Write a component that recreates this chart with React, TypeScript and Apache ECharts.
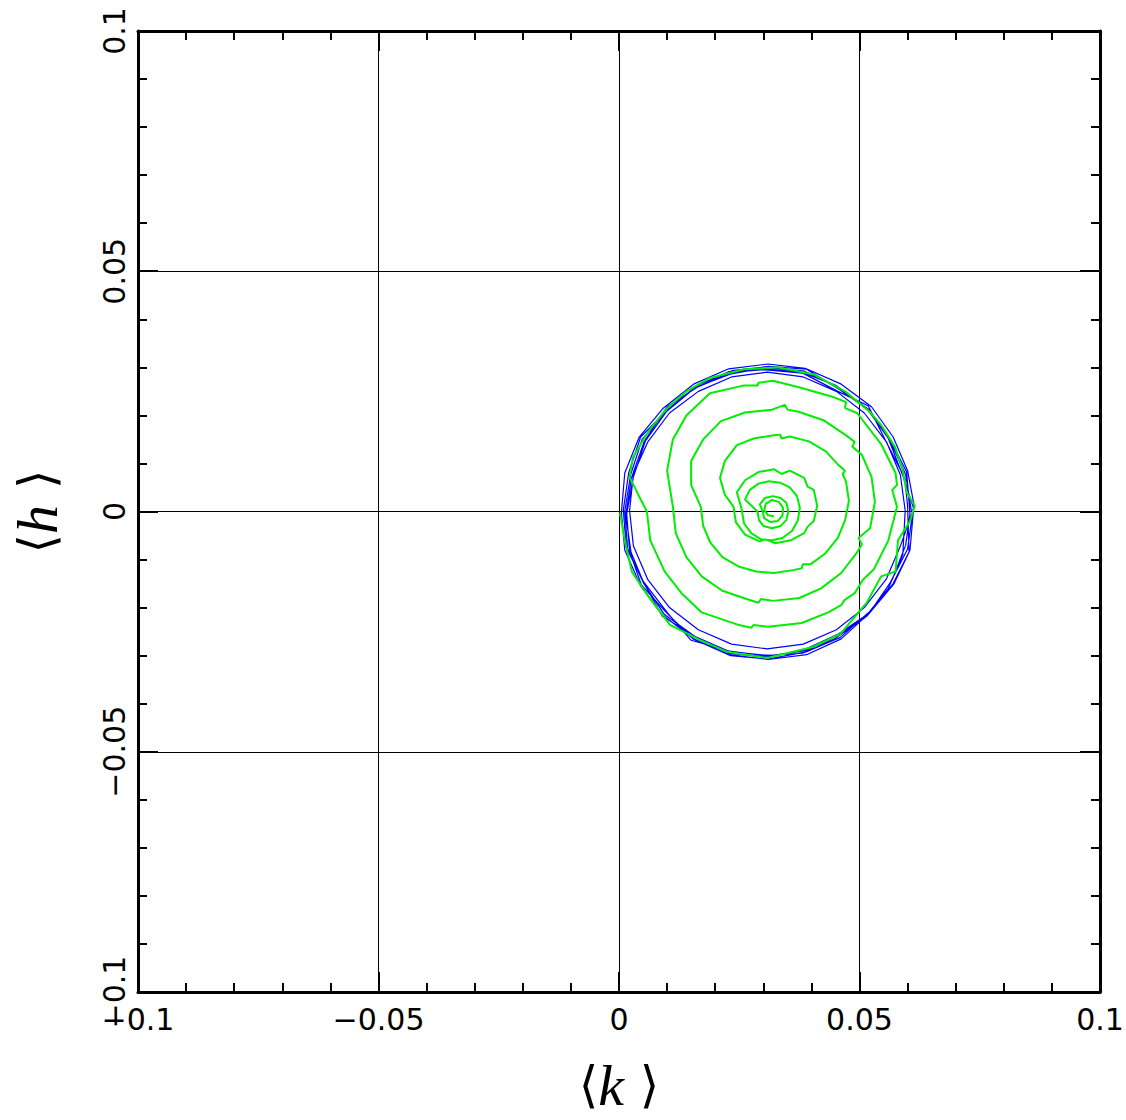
import React, { useEffect, useRef } from "react";
import * as echarts from "echarts";

const tickLabels = ["−0.1", "−0.05", "0", "0.05", "0.1"];

const blueLoop1: number[][] = [
  [0.0608, 0.0], [0.0596, 0.0077], [0.0563, 0.0148], [0.052, 0.0212], [0.0457, 0.0257], [0.0386, 0.0292],
  [0.0308, 0.03], [0.0231, 0.0286], [0.0159, 0.0258], [0.0099, 0.0209], [0.0048, 0.015], [0.0024, 0.0076],
  [0.0012, 0.0], [0.0018, -0.0078], [0.0051, -0.0149], [0.0094, -0.0214], [0.0158, -0.026], [0.0229, -0.0295],
  [0.0308, -0.0303], [0.0385, -0.0288], [0.0456, -0.0255], [0.052, -0.0212], [0.0564, -0.0148], [0.06, -0.0078],
];
const blueLoop2: number[][] = [
  [0.0612, 0.0008], [0.059, 0.0075], [0.056, 0.0152], [0.0515, 0.0215], [0.0452, 0.0262], [0.038, 0.029],
  [0.0305, 0.0297], [0.0228, 0.0291], [0.0162, 0.0262], [0.0103, 0.0214], [0.0055, 0.0147], [0.003, 0.0072],
  [0.0016, -0.0005], [0.0022, -0.0082], [0.0046, -0.0152], [0.0098, -0.021], [0.0155, -0.0266], [0.0232, -0.03],
  [0.031, -0.0307], [0.039, -0.0292], [0.046, -0.0262], [0.0525, -0.0205], [0.0568, -0.0142], [0.0596, -0.007],
];
const blueLoop3: number[][] = [
  [0.0605, -0.0005], [0.0598, 0.0082], [0.0566, 0.0145], [0.0523, 0.0208], [0.046, 0.0253], [0.039, 0.0296],
  [0.0312, 0.0302], [0.0235, 0.0293], [0.0155, 0.0255], [0.0095, 0.0205], [0.0045, 0.0155], [0.002, 0.008],
  [0.0009, 0.0003], [0.0015, -0.0075], [0.0055, -0.0155], [0.009, -0.0218], [0.0162, -0.0262], [0.0226, -0.029],
  [0.0302, -0.03], [0.0382, -0.0295], [0.0452, -0.0258], [0.0515, -0.0218], [0.0572, -0.015], [0.0603, -0.0085],
];
const blueLoop4: number[][] = [
  [0.06, 0.0012], [0.0594, 0.007], [0.0558, 0.014], [0.0518, 0.022], [0.0455, 0.025], [0.0382, 0.0288],
  [0.03, 0.0295], [0.0238, 0.029], [0.0165, 0.026], [0.01, 0.0218], [0.0052, 0.0145], [0.0026, 0.007],
  [0.0014, -0.0008], [0.0025, -0.0085], [0.005, -0.0145], [0.01, -0.021], [0.015, -0.0268], [0.0235, -0.0292],
  [0.0315, -0.03], [0.0385, -0.029], [0.0448, -0.0265], [0.051, -0.0222], [0.056, -0.016], [0.059, -0.009],
];
const blueLoop5: number[][] = [
  [0.0595, 0.0002], [0.0585, 0.0076], [0.0556, 0.0145], [0.051, 0.0205], [0.0452, 0.025], [0.0383, 0.028],
  [0.0308, 0.029], [0.0234, 0.028], [0.0165, 0.025], [0.0105, 0.0205], [0.006, 0.0145], [0.003, 0.0078],
  [0.0022, 0.0002], [0.003, -0.0072], [0.006, -0.0142], [0.0105, -0.02], [0.0165, -0.0246], [0.0234, -0.0276],
  [0.0308, -0.0286], [0.0383, -0.0276], [0.0452, -0.0246], [0.051, -0.02], [0.0556, -0.014], [0.0585, -0.0072],
];
const blueLoop6: number[][] = [
  [0.0614, 0.001], [0.06, 0.0085], [0.057, 0.0155], [0.0525, 0.0218], [0.0462, 0.0265], [0.0387, 0.0298],
  [0.031, 0.0307], [0.0228, 0.0297], [0.0155, 0.0265], [0.0092, 0.0215], [0.0042, 0.0155], [0.0012, 0.008],
  [0.0005, -0.0002], [0.0012, -0.008], [0.0045, -0.0155], [0.009, -0.0215], [0.0155, -0.0265], [0.023, -0.0298],
  [0.031, -0.0308], [0.039, -0.0298], [0.0462, -0.0265], [0.052, -0.0212], [0.057, -0.015], [0.0605, -0.008],
  [0.0612, 0.0],
];

const greenTurn1: number[][] = [
  [0.0002, -0.0003], [0.0012, -0.006], [0.0027, -0.0126], [0.006, -0.0175], [0.0106, -0.0236], [0.0168, -0.0267],
  [0.0225, -0.0292], [0.0308, -0.0305], [0.0403, -0.0282], [0.046, -0.0255], [0.0507, -0.0199], [0.0515, -0.019],
  [0.0545, -0.0135], [0.0575, -0.0125], [0.058, -0.006], [0.0605, -0.002], [0.0615, 0.0012], [0.0598, 0.004],
  [0.059, 0.0085], [0.0574, 0.0134], [0.0545, 0.018], [0.0522, 0.0207], [0.047, 0.025], [0.0405, 0.0285],
  [0.033, 0.03], [0.026, 0.0296], [0.0189, 0.0278], [0.014, 0.025], [0.01, 0.0215], [0.006, 0.0165],
  [0.0029, 0.0113], [0.0022, 0.0072], [0.004, 0.0035],
];
const greenTurn2: number[][] = [
  [0.0058, 0.0], [0.0065, -0.006], [0.0095, -0.0125], [0.013, -0.017], [0.0172, -0.021], [0.0245, -0.0235],
  [0.0275, -0.0242], [0.028, -0.0236], [0.031, -0.024], [0.038, -0.0232], [0.0435, -0.021], [0.0462, -0.0195],
  [0.0468, -0.0185], [0.049, -0.017], [0.0507, -0.0142], [0.053, -0.012], [0.056, -0.006], [0.0578, 0.001],
  [0.0568, 0.0045], [0.0578, 0.0055], [0.0575, 0.008], [0.0545, 0.014], [0.0495, 0.0205], [0.047, 0.0215],
  [0.0472, 0.0228], [0.044, 0.024], [0.0376, 0.0258], [0.032, 0.0272], [0.029, 0.0268], [0.0288, 0.0262],
  [0.0258, 0.0262], [0.0189, 0.0246], [0.014, 0.02], [0.0112, 0.015], [0.01, 0.0085],
];
const greenTurn3: number[][] = [
  [0.0112, 0.001], [0.0118, -0.0045], [0.014, -0.0095], [0.0172, -0.0135], [0.0215, -0.0165], [0.0265, -0.0182],
  [0.029, -0.019], [0.0295, -0.0182], [0.032, -0.0186], [0.0375, -0.018], [0.042, -0.016], [0.0462, -0.0128],
  [0.0495, -0.0085], [0.0505, -0.0068], [0.0498, -0.0055], [0.0522, -0.0035], [0.0532, 0.002], [0.0525, 0.0072],
  [0.0505, 0.0118], [0.0485, 0.0135], [0.049, 0.0145], [0.047, 0.016], [0.0425, 0.019], [0.0372, 0.0208],
  [0.035, 0.0212], [0.0345, 0.0222], [0.0318, 0.0212], [0.0262, 0.0206], [0.0212, 0.0188], [0.0175, 0.015],
  [0.015, 0.0105], [0.015, 0.0055],
];
const greenTurn4: number[][] = [
  [0.017, 0.001], [0.0175, -0.003], [0.019, -0.0065], [0.0215, -0.0095], [0.025, -0.0115], [0.0285, -0.0125],
  [0.0322, -0.0128], [0.0362, -0.0122], [0.038, -0.0118], [0.0382, -0.011], [0.0398, -0.011], [0.0428, -0.0088],
  [0.0455, -0.0055], [0.047, -0.0018], [0.0478, 0.0022], [0.0472, 0.0062], [0.0465, 0.0078], [0.047, 0.0085],
  [0.0455, 0.0098], [0.043, 0.0125], [0.0395, 0.0146], [0.0355, 0.0156], [0.0338, 0.0152], [0.0335, 0.016],
  [0.0318, 0.0158], [0.028, 0.0152], [0.0245, 0.0138], [0.022, 0.0105], [0.021, 0.007], [0.022, 0.0035],
];
const greenTurn5: number[][] = [
  [0.0238, 0.001], [0.0243, -0.0022], [0.0262, -0.0048], [0.0292, -0.0062], [0.0305, -0.0058], [0.0325, -0.0066],
  [0.0357, -0.006], [0.0385, -0.0045], [0.0392, -0.0032], [0.0405, -0.002], [0.0412, 0.0012], [0.0405, 0.0045],
  [0.0392, 0.0052], [0.0385, 0.007], [0.0355, 0.0085], [0.0338, 0.0078], [0.0322, 0.0088], [0.029, 0.0082],
  [0.0262, 0.0065], [0.0245, 0.004],
];
const greenTurn6: number[][] = [
  [0.0255, 0.0005], [0.026, -0.0025], [0.0275, -0.0045], [0.0295, -0.0058], [0.0318, -0.006], [0.034, -0.0055],
  [0.036, -0.004], [0.0372, -0.0018], [0.0376, 0.0008], [0.037, 0.0032], [0.0355, 0.005], [0.0335, 0.006],
  [0.0312, 0.0063], [0.029, 0.0058], [0.0272, 0.0045], [0.0262, 0.0025],
];
const greenTurn7: number[][] = [
  [0.0288, 0.0], [0.0291, -0.0018], [0.03, -0.003], [0.0318, -0.0035], [0.0336, -0.003], [0.0348, -0.0018],
  [0.0352, 0.0], [0.0348, 0.0018], [0.0336, 0.0028], [0.032, 0.0032], [0.0303, 0.0028], [0.0293, 0.0015],
];
const greenTurn8: number[][] = [
  [0.0298, 0.0002], [0.0302, -0.0014], [0.0315, -0.0022], [0.033, -0.002], [0.034, -0.0008], [0.0341, 0.0008],
  [0.0332, 0.002], [0.0318, 0.0024], [0.0305, 0.0016], [0.0302, 0.0003], [0.031, -0.0008], [0.0322, -0.001],
];

const blueData = [...blueLoop1, ...blueLoop2, ...blueLoop3, ...blueLoop4, ...blueLoop5, ...blueLoop6];
const greenData = [
  ...greenTurn1, ...greenTurn2, ...greenTurn3, ...greenTurn4,
  ...greenTurn5, ...greenTurn6, ...greenTurn7, ...greenTurn8,
];

const tickStyle = { color: "#000", width: 2 };

function makeAxis(position: string, showLabels: boolean, isY: boolean, withSplit: boolean) {
  return {
    type: "value",
    position,
    min: -0.1,
    max: 0.1,
    interval: 0.05,
    axisLine: { show: true, onZero: false, lineStyle: { color: "#000", width: 3 } },
    axisTick: { show: true, inside: true, length: 20, lineStyle: tickStyle },
    minorTick: { show: true, splitNumber: 5, length: 9, lineStyle: tickStyle },
    splitLine: { show: withSplit, lineStyle: { color: "#000", width: 1 } },
    minorSplitLine: { show: false },
    axisLabel: {
      show: showLabels,
      formatter: (_v: number, i: number) => tickLabels[i],
      color: "#000",
      fontFamily: "DejaVu Sans",
      fontSize: 30,
      margin: isY ? 9 : 12,
      rotate: isY ? 90 : 0,
    },
  };
}

export default function App() {
  const ref = useRef<HTMLDivElement>(null);
  useEffect(() => {
    document.body.style.margin = "0";
    const chart = echarts.init(ref.current!, null, { renderer: "svg" });
    const titleRich = {
      br: { fontFamily: "DejaVu Sans", fontSize: 50, color: "#000" },
      it: { fontFamily: "Liberation Serif", fontStyle: "italic", fontSize: 58, color: "#000" },
    };
    const xBottom: any = makeAxis("bottom", true, false, true);
    xBottom.name = "{br|⟨}{it|k}{br| ⟩}";
    xBottom.nameLocation = "middle";
    xBottom.nameGap = 64;
    xBottom.nameTextStyle = { rich: titleRich };
    const yLeft: any = makeAxis("left", true, true, true);
    yLeft.name = "{br|⟨}{it|h}{br| ⟩}";
    yLeft.nameLocation = "middle";
    yLeft.nameGap = 72;
    yLeft.nameRotate = 90;
    yLeft.nameTextStyle = { rich: titleRich };
    chart.setOption({
      animation: false,
      backgroundColor: "#fff",
      grid: { left: 138, top: 31, width: 962, height: 961, containLabel: false, outerBoundsMode: "none" },
      xAxis: [xBottom, makeAxis("top", false, false, false)],
      yAxis: [yLeft, makeAxis("right", false, true, false)],
      series: [
        {
          type: "line",
          data: blueData,
          showSymbol: false,
          symbol: "none",
          lineStyle: { color: "#0000ff", width: 1.2 },
          z: 3,
        },
        {
          type: "line",
          data: greenData,
          showSymbol: false,
          symbol: "none",
          lineStyle: { color: "#00ee00", width: 2 },
          z: 4,
        },
      ],
    });
    return () => chart.dispose();
  }, []);
  return <div ref={ref} style={{ width: 1126, height: 1120 }} />;
}
